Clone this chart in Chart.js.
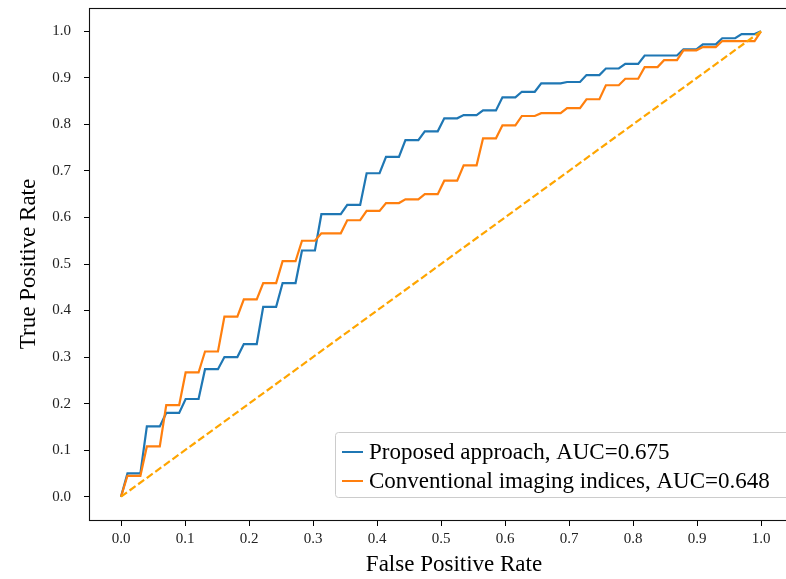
<!DOCTYPE html>
<html>
<head>
<meta charset="utf-8">
<script src="https://cdn.jsdelivr.net/npm/chart.js@4/dist/chart.umd.min.js"></script>
<style>
  html, body { margin: 0; padding: 0; background: #fff; overflow: hidden; width: 786px; height: 579px; }
  #wrap { position: relative; width: 830px; height: 579px; }
  canvas { display: block; }
</style>
</head>
<body>
<div id="wrap"><canvas id="c" width="830" height="579"></canvas></div>
<script>
// ---- data ----
const seriesLabels = ['Proposed approach, AUC=0.675', 'Conventional imaging indices, AUC=0.648'];

const fprProposed = [0, 0.0101, 0.0303, 0.0404, 0.0606, 0.0707, 0.0909, 0.1010, 0.1212, 0.1313, 0.1515,
  0.1616, 0.1818, 0.1919, 0.2121, 0.2222, 0.2424, 0.2525, 0.2727, 0.2828, 0.3030, 0.3131, 0.3434,
  0.3535, 0.3737, 0.3838, 0.4040, 0.4141, 0.4343, 0.4444, 0.4646, 0.4747, 0.4949, 0.5051, 0.5253,
  0.5354, 0.5556, 0.5657, 0.5859, 0.5960, 0.6162, 0.6263, 0.6465, 0.6566, 0.6869, 0.6970, 0.7172,
  0.7273, 0.7475, 0.7576, 0.7778, 0.7879, 0.8081, 0.8182, 0.8687, 0.8788, 0.8990, 0.9091, 0.9293,
  0.9394, 0.9596, 0.9697, 0.9899, 1.0];
const tprProposed = [0, 0.050, 0.050, 0.151, 0.151, 0.180, 0.180, 0.210, 0.210, 0.274, 0.274,
  0.300, 0.300, 0.328, 0.328, 0.408, 0.408, 0.459, 0.459, 0.529, 0.529, 0.607, 0.607,
  0.627, 0.627, 0.695, 0.695, 0.730, 0.730, 0.766, 0.766, 0.785, 0.785, 0.813, 0.813,
  0.820, 0.820, 0.830, 0.830, 0.858, 0.858, 0.870, 0.870, 0.888, 0.888, 0.891, 0.891,
  0.906, 0.906, 0.920, 0.920, 0.930, 0.930, 0.948, 0.948, 0.961, 0.961, 0.972, 0.972,
  0.985, 0.985, 0.994, 0.994, 1.0];

const fprConventional = [0, 0.0101, 0.0303, 0.0404, 0.0606, 0.0707, 0.0909, 0.1010, 0.1212, 0.1313, 0.1515,
  0.1616, 0.1818, 0.1919, 0.2121, 0.2222, 0.2424, 0.2525, 0.2727, 0.2828, 0.3030, 0.3131, 0.3434,
  0.3535, 0.3737, 0.3838, 0.4040, 0.4141, 0.4343, 0.4444, 0.4646, 0.4747, 0.4949, 0.5051, 0.5253,
  0.5354, 0.5556, 0.5657, 0.5859, 0.5960, 0.6162, 0.6263, 0.6465, 0.6566, 0.6869, 0.6970, 0.7172,
  0.7273, 0.7475, 0.7576, 0.7778, 0.7879, 0.8081, 0.8182, 0.8384, 0.8485, 0.8687, 0.8788, 0.8990,
  0.9091, 0.9293, 0.9394, 0.9899, 1.0];
const tprConventional = [0, 0.045, 0.045, 0.108, 0.108, 0.197, 0.197, 0.267, 0.267, 0.312, 0.312,
  0.387, 0.387, 0.424, 0.424, 0.459, 0.459, 0.506, 0.506, 0.550, 0.550, 0.566, 0.566,
  0.594, 0.594, 0.614, 0.614, 0.631, 0.631, 0.639, 0.639, 0.650, 0.650, 0.679, 0.679,
  0.712, 0.712, 0.770, 0.770, 0.798, 0.798, 0.818, 0.818, 0.824, 0.824, 0.835, 0.835,
  0.854, 0.854, 0.884, 0.884, 0.898, 0.898, 0.923, 0.923, 0.938, 0.938, 0.959, 0.959,
  0.966, 0.966, 0.979, 0.979, 1.0];

const chanceX = [0, 1];
const chanceY = [0, 1];

const tickValues = [0, 0.1, 0.2, 0.3, 0.4, 0.5, 0.6, 0.7, 0.8, 0.9, 1.0];
const tickLabels = ['0.0', '0.1', '0.2', '0.3', '0.4', '0.5', '0.6', '0.7', '0.8', '0.9', '1.0'];

const xTitle = 'False Positive Rate';
const yTitle = 'True Positive Rate';

// ---- build ----
const toPts = (xs, ys) => xs.map((x, i) => ({ x: x, y: ys[i] }));
const SERIF = "'Liberation Serif', 'DejaVu Serif', serif";

const setTicks = (scale) => { scale.ticks = tickValues.map(v => ({ value: v })); };
const tickCb = (value) => {
  const i = tickValues.findIndex(v => Math.abs(v - value) < 1e-9);
  return i >= 0 ? tickLabels[i] : '';
};

const frameAndLegend = {
  id: 'frameAndLegend',
  afterDatasetsDraw(chart) {
    const { ctx, chartArea: a } = chart;
    ctx.save();
    ctx.strokeStyle = '#111';
    ctx.lineWidth = 1.1;
    ctx.strokeRect(Math.round(a.left) + 0.5, Math.round(a.top) + 0.5,
                   Math.round(a.right - a.left), Math.round(a.bottom - a.top));
    // legend box (lower right)
    const bx = 335.5, by = 432.5, bw = 470, bh = 65, r = 3;
    ctx.beginPath();
    ctx.moveTo(bx + r, by);
    ctx.lineTo(bx + bw - r, by);
    ctx.arcTo(bx + bw, by, bx + bw, by + r, r);
    ctx.lineTo(bx + bw, by + bh - r);
    ctx.arcTo(bx + bw, by + bh, bx + bw - r, by + bh, r);
    ctx.lineTo(bx + r, by + bh);
    ctx.arcTo(bx, by + bh, bx, by + bh - r, r);
    ctx.lineTo(bx, by + r);
    ctx.arcTo(bx, by, bx + r, by, r);
    ctx.closePath();
    ctx.fillStyle = 'rgba(255,255,255,0.85)';
    ctx.fill();
    ctx.strokeStyle = '#cccccc';
    ctx.lineWidth = 1;
    ctx.stroke();
    const rows = [452, 481];
    ctx.font = '23px ' + SERIF;
    ctx.textBaseline = 'middle';
    ctx.textAlign = 'left';
    [0, 1].forEach((di, k) => {
      const ds = chart.data.datasets[di];
      ctx.strokeStyle = ds.borderColor;
      ctx.lineWidth = 2;
      ctx.setLineDash([]);
      ctx.beginPath();
      ctx.moveTo(342, rows[k]);
      ctx.lineTo(363, rows[k]);
      ctx.stroke();
      ctx.fillStyle = '#000';
      ctx.fillText(ds.label, 369, rows[k] + 1);
    });
    ctx.restore();
  }
};

new Chart(document.getElementById('c'), {
  type: 'scatter',
  data: {
    datasets: [
      { label: seriesLabels[0], data: toPts(fprProposed, tprProposed), showLine: true,
        borderColor: '#1f77b4', backgroundColor: '#1f77b4', borderWidth: 2.2, pointRadius: 0,
        tension: 0, order: 2 },
      { label: seriesLabels[1], data: toPts(fprConventional, tprConventional), showLine: true,
        borderColor: '#ff7f0e', backgroundColor: '#ff7f0e', borderWidth: 2.2, pointRadius: 0,
        tension: 0, order: 1 },
      { label: 'chance', data: toPts(chanceX, chanceY), showLine: true,
        borderColor: '#ffa500', backgroundColor: '#ffa500', borderWidth: 2.2, borderDash: [7.4, 3.2],
        pointRadius: 0, order: 0 }
    ]
  },
  options: {
    responsive: false,
    animation: false,
    devicePixelRatio: 1,
    layout: { padding: { top: 8, right: 11, left: 0, bottom: 0 } },
    plugins: { legend: { display: false }, tooltip: { enabled: false } },
    scales: {
      x: {
        type: 'linear', min: -0.05, max: 1.0906,
        afterBuildTicks: setTicks,
        afterFit: (s) => { s.height = 59; s.paddingLeft = 0; s.paddingRight = 0; },
        border: { display: false },
        grid: { display: true, drawOnChartArea: false, drawTicks: true, tickLength: 6,
                tickColor: '#000', tickWidth: 1 },
        ticks: { color: '#222', font: { family: SERIF, size: 15 }, padding: 4,
                 maxRotation: 0, autoSkip: false, callback: tickCb },
        title: { display: true, text: xTitle, color: '#000',
                 font: { family: SERIF, size: 23 }, padding: { top: 0, bottom: 0 } }
      },
      y: {
        type: 'linear', min: -0.05, max: 1.05,
        afterBuildTicks: setTicks,
        afterFit: (s) => { s.width = 89; s.paddingTop = 0; s.paddingBottom = 0; },
        border: { display: false },
        grid: { display: true, drawOnChartArea: false, drawTicks: true, tickLength: 5,
                tickColor: '#000', tickWidth: 1 },
        ticks: { color: '#222', font: { family: SERIF, size: 15 }, padding: 13,
                 autoSkip: false, callback: tickCb },
        title: { display: true, text: yTitle, color: '#000',
                 font: { family: SERIF, size: 23 }, padding: { top: 15, bottom: 0 } }
      }
    }
  },
  plugins: [frameAndLegend]
});
</script>
</body>
</html>
